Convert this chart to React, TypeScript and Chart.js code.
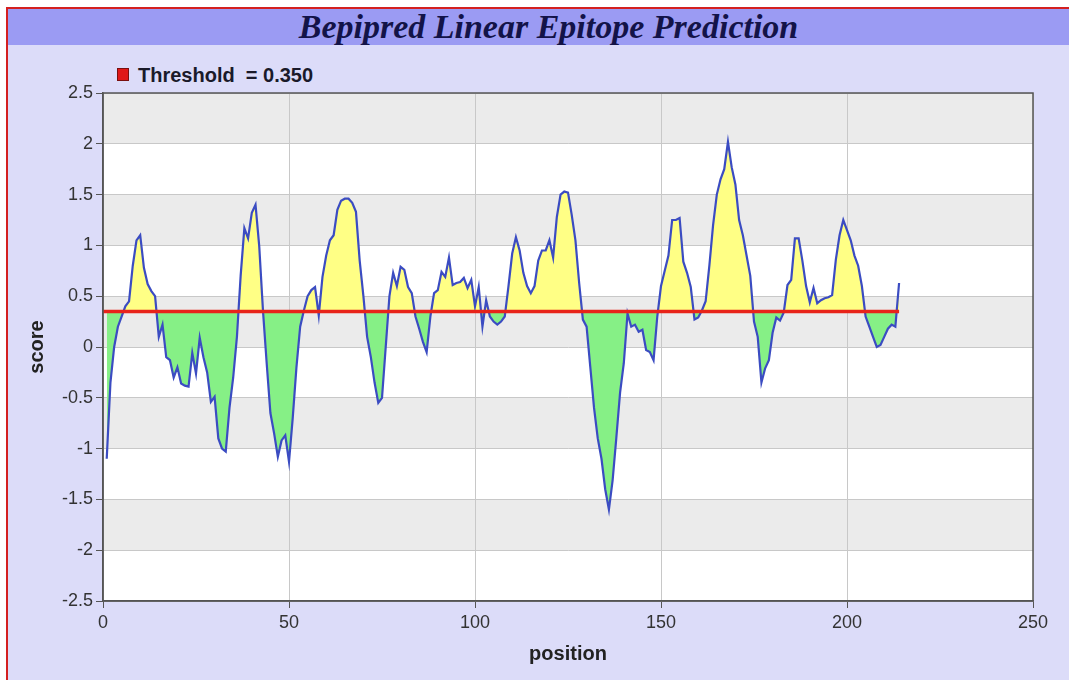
import { useEffect, useRef } from "react";
import { Chart, registerables } from "chart.js";

Chart.register(...registerables);

const TITLE = "Bepipred Linear Epitope Prediction";
const LEGEND_LABEL = "Threshold  = 0.350";
const X_TITLE = "position";
const Y_TITLE = "score";

const scores = [
  -1.1, -0.35, 0.0, 0.2, 0.3, 0.4, 0.45, 0.8, 1.05, 1.1,
  0.78, 0.62, 0.55, 0.5, 0.1, 0.22, -0.1, -0.13, -0.3, -0.2,
  -0.36, -0.38, -0.39, -0.06, -0.26, 0.09, -0.1, -0.25, -0.54, -0.49,
  -0.9, -1.0, -1.03, -0.6, -0.3, 0.1, 0.7, 1.17, 1.07, 1.32,
  1.4, 0.99, 0.36, -0.16, -0.65, -0.85, -1.08, -0.92, -0.87, -1.13,
  -0.7, -0.2, 0.2, 0.36, 0.5, 0.56, 0.59, 0.31, 0.69, 0.9,
  1.05, 1.1, 1.35, 1.44, 1.46, 1.46, 1.42, 1.33, 0.85, 0.5,
  0.1, -0.1, -0.35, -0.55, -0.5, 0.0, 0.5, 0.73, 0.6, 0.79,
  0.76, 0.59, 0.53, 0.3, 0.18, 0.05, -0.05, 0.3, 0.53, 0.56,
  0.74, 0.69, 0.88, 0.61, 0.63, 0.64, 0.68, 0.58, 0.66, 0.4,
  0.59, 0.2, 0.46, 0.3, 0.25, 0.22, 0.25, 0.3, 0.6, 0.92,
  1.08, 0.95, 0.73, 0.6, 0.53, 0.6, 0.85, 0.95, 0.95, 1.05,
  0.88, 1.28, 1.5, 1.53, 1.52, 1.3, 1.05, 0.63, 0.27, 0.2,
  -0.2, -0.6, -0.9, -1.1, -1.4, -1.6, -1.31, -0.89, -0.45, -0.16,
  0.33, 0.2, 0.22, 0.15, 0.17, -0.03, -0.05, -0.13, 0.3, 0.6,
  0.75, 0.9, 1.25, 1.25, 1.27, 0.84, 0.73, 0.59, 0.27, 0.29,
  0.36, 0.45, 0.8, 1.2, 1.5, 1.65, 1.75, 2.02, 1.77, 1.6,
  1.25, 1.1, 0.9, 0.7, 0.25, 0.1, -0.35, -0.21, -0.13, 0.14,
  0.29, 0.26, 0.34, 0.61, 0.66, 1.07, 1.07, 0.85, 0.6, 0.44,
  0.58, 0.43, 0.46, 0.48, 0.49, 0.51, 0.86, 1.1, 1.25, 1.15,
  1.05, 0.9, 0.8, 0.6, 0.3, 0.2, 0.1, 0.0, 0.02, 0.1,
  0.18, 0.22, 0.2, 0.63,
];
const positions = scores.map((_, i) => i + 1);

const THRESHOLD = 0.35;
const thresholdSpan = [0, 214];

const X_MIN = 0;
const X_MAX = 250;
const X_STEP = 50;
const Y_MIN = -2.5;
const Y_MAX = 2.5;
const Y_STEP = 0.5;

const bandsPlugin = {
  id: "bands",
  beforeDraw(chart: any) {
    const { ctx, chartArea, scales } = chart;
    const y = scales.y;
    ctx.save();
    let idx = 0;
    for (let v = Y_MAX; v > Y_MIN + 1e-9; v -= Y_STEP) {
      const top = y.getPixelForValue(v);
      const bot = y.getPixelForValue(v - Y_STEP);
      ctx.fillStyle = idx % 2 === 0 ? "#ebebeb" : "#ffffff";
      ctx.fillRect(chartArea.left, top, chartArea.right - chartArea.left, bot - top);
      idx++;
    }
    ctx.restore();
  },
  afterDraw(chart: any) {
    const { ctx, chartArea } = chart;
    ctx.save();
    ctx.strokeStyle = "#555555";
    ctx.lineWidth = 1.5;
    ctx.strokeRect(chartArea.left, chartArea.top, chartArea.right - chartArea.left, chartArea.bottom - chartArea.top);
    ctx.restore();
  },
};

export default function App() {
  const ref = useRef<HTMLCanvasElement | null>(null);

  useEffect(() => {
    if (!ref.current) return;
    const tickFont = { family: "Liberation Sans", size: 18 };
    const titleFont = { family: "Liberation Sans", size: 20, weight: "bold" as const };
    const chart = new Chart(ref.current, {
      type: "scatter",
      data: {
        datasets: [
          {
            label: "score",
            data: positions.map((p, i) => ({ x: p, y: scores[i] })),
            showLine: true,
            borderColor: "#3b4cc2",
            borderWidth: 2.2,
            pointRadius: 0,
            tension: 0,
            fill: { target: { value: THRESHOLD }, above: "#ffff85", below: "#86f086" } as any,
            order: 2,
          },
          {
            label: LEGEND_LABEL,
            data: thresholdSpan.map((x) => ({ x, y: THRESHOLD })),
            showLine: true,
            borderColor: "#e8241a",
            borderWidth: 3.5,
            pointRadius: 0,
            fill: false,
            order: 1,
          },
        ],
      },
      options: {
        animation: false,
        responsive: false,
        maintainAspectRatio: false,
        layout: { padding: { top: 93, right: 36, bottom: 0, left: 0 } },
        plugins: {
          legend: { display: false },
          tooltip: { enabled: false },
          title: { display: false },
        },
        scales: {
          x: {
            type: "linear",
            min: X_MIN,
            max: X_MAX,
            ticks: { stepSize: X_STEP, font: tickFont, color: "#333333", padding: 4, callback: (v: any) => String(v) },
            grid: { color: "#c8c8c8", lineWidth: 1, tickLength: 7, tickColor: "#555555", drawTicks: true },
            border: { color: "#555555", width: 1.5 },
            title: { display: true, text: X_TITLE, font: titleFont, color: "#222222", padding: { top: 0, bottom: 14 } },
            afterFit(scale: any) {
              scale.height = 79;
              scale.paddingLeft = 0;
              scale.paddingRight = 0;
            },
          },
          y: {
            type: "linear",
            min: Y_MIN,
            max: Y_MAX,
            ticks: { stepSize: Y_STEP, font: tickFont, color: "#333333", padding: 3, callback: (v: any) => String(v) },
            grid: { color: "#c8c8c8", lineWidth: 1, tickLength: 7, tickColor: "#555555", drawTicks: true },
            border: { color: "#555555", width: 1.5 },
            title: { display: true, text: Y_TITLE, font: titleFont, color: "#222222", padding: { top: 25, bottom: 0 } },
            afterFit(scale: any) {
              scale.width = 103;
              scale.paddingTop = 0;
              scale.paddingBottom = 0;
            },
          },
        },
      },
      plugins: [bandsPlugin],
    });
    return () => chart.destroy();
  }, []);

  return (
    <div style={{ position: "fixed", left: 0, top: 0, width: 1069, height: 680, background: "#ffffff", overflow: "hidden" }}>
      <div style={{ position: "absolute", left: 6, top: 7, right: 0, bottom: 0, borderLeft: "2px solid #d42020", borderTop: "2px solid #d42020", background: "#dcdcf9" }} />
      <div
        style={{
          position: "absolute",
          left: 8,
          top: 9,
          right: 0,
          height: 36,
          background: "#9b9bf3",
          display: "flex",
          alignItems: "center",
          justifyContent: "center",
          fontFamily: "'Liberation Serif', serif",
          fontWeight: "bold",
          fontStyle: "italic",
          fontSize: 34,
          color: "#131348",
          lineHeight: "36px",
          paddingLeft: 20,
        }}
      >
        {TITLE}
      </div>
      <div style={{ position: "absolute", left: 117, top: 68, width: 10, height: 11, background: "#e01818", border: "1px solid #7a1010" }} />
      <div
        style={{
          position: "absolute",
          left: 138,
          top: 62,
          fontFamily: "'Liberation Sans', sans-serif",
          fontWeight: "bold",
          fontSize: 20,
          color: "#1a1a2a",
          whiteSpace: "pre",
          lineHeight: "26px",
        }}
      >
        {LEGEND_LABEL}
      </div>
      <canvas ref={ref} width={1069} height={680} style={{ position: "absolute", left: 0, top: 0, width: 1069, height: 680 }} />
    </div>
  );
}
